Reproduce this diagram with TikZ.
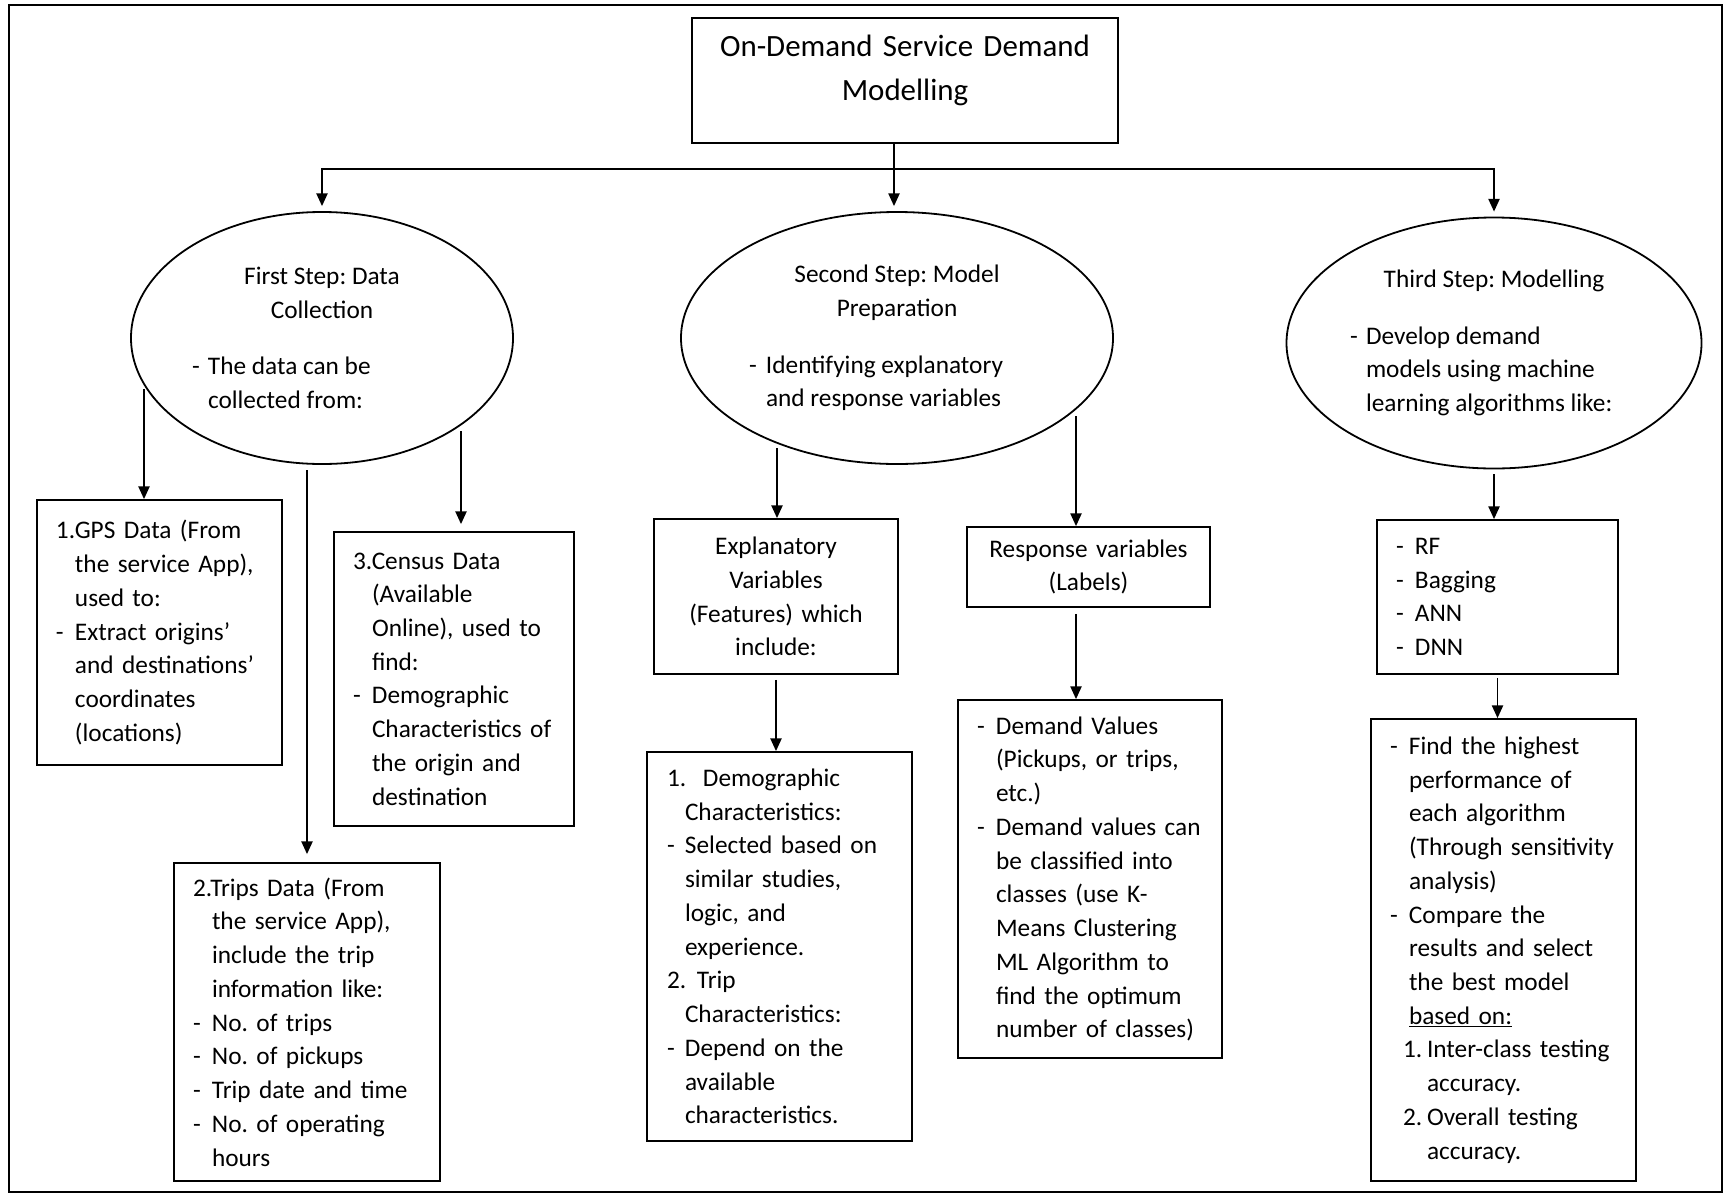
\documentclass[tikz,border=0pt]{standalone}
\usepackage{fontspec}
\setmainfont{Carlito}
\usetikzlibrary{arrows.meta,shapes.geometric}
\frenchspacing

% list helpers: dash column and hanging indent
\newcommand{\dsh}[1][4.75mm]{\makebox[#1][l]{-}}
\newcommand{\ind}[1][4.75mm]{\hspace*{#1}}

\tikzset{
    box/.style={draw, inner sep=0pt, align=left, font=\fontsize{18pt}{24pt}\selectfont},
    stepell/.style={draw, ellipse, inner sep=0pt, font=\fontsize{18pt}{24pt}\selectfont},
}

\begin{document}
\begin{tikzpicture}[x=0.25mm, y=-0.25mm, >={Triangle[length=3.2mm,width=2.8mm]}, line width=0.45mm]
    \useasboundingbox (0,0) rectangle (1726,1197);
    % Outer frame
    \draw[line width=0.55mm] (9,5) rectangle (1722,1192);

    % Title
    \node[box, align=center, minimum width=106.5mm, minimum height=31.25mm, text width=100mm,
          font=\fontsize{22pt}{31.3pt}\selectfont] (title) at (905,80.5)
        {On-Demand Service Demand\\Modelling\\[-4.5mm]\mbox{}};

    % The three steps
    \node[stepell, minimum width=95.5mm, minimum height=63mm] (ell1) at (322,338)
        {\parbox{65mm}{\centering First Step: Data\\Collection\par\vspace{5.75mm}
         \raggedright\dsh[4mm]The data can be\\\ind[4mm]collected from:}};
    \node[stepell, minimum width=108mm, minimum height=63mm] (ell2) at (897,338)
        {\parbox{74mm}{\centering Second Step: Model\\Preparation\par\vspace{5.75mm}
         \raggedright\dsh[4.25mm]Identifying explanatory\\\ind[4.25mm]and response variables}};
    \node[stepell, minimum width=103.75mm, minimum height=62.75mm] (ell3) at (1494,343)
        {\parbox{72mm}{\centering Third Step: Modelling\par\vspace{5.75mm}
         \raggedright\dsh[4mm]Develop demand\\\ind[4mm]models using machine\\\ind[4mm]learning algorithms like:}};

    % Data collection
    \node[box, minimum width=61.25mm, minimum height=66.25mm, text width=51.75mm] (gps) at (159.5,632.5)
        {1.GPS Data (From\\\ind the service App),\\\ind used to:\\\dsh Extract origins'\\\ind and destinations'\\\ind coordinates\\\ind (locations)};
    \node[box, minimum width=60mm, minimum height=73.5mm, text width=50.5mm] (census) at (454,679)
        {3.Census Data\\\ind (Available\\\ind Online), used to\\\ind find:\\\dsh Demographic\\\ind Characteristics of\\\ind the origin and\\\ind destination};
    \node[box, minimum width=66.5mm, minimum height=79.5mm, text width=57mm] (trips) at (307,1022)
        {2.Trips Data (From\\\ind the service App),\\\ind include the trip\\\ind information like:\\\dsh No. of trips\\\dsh No. of pickups\\\dsh Trip date and time\\\dsh No. of operating\\\ind hours};

    % Model preparation
    \node[box, align=center, minimum width=61mm, minimum height=38.75mm, text width=55mm] (expl) at (776,596.5)
        {Explanatory\\Variables\\(Features) which\\include:};
    \node[box, align=center, minimum width=60.75mm, minimum height=20mm, text width=55mm] (resp) at (1088.5,567)
        {Response variables\\(Labels)};
    \node[box, minimum width=66.25mm, minimum height=97.25mm, text width=56.25mm] (demo) at (779.5,946.5)
        {\makebox[9mm][l]{1.}Demographic\\\ind[4.5mm]Characteristics:\\\dsh[4.5mm]Selected based on\\\ind[4.5mm]similar studies,\\\ind[4.5mm]logic, and\\\ind[4.5mm]experience.\\\makebox[7.5mm][l]{2.}Trip\\\ind[4.5mm]Characteristics:\\\dsh[4.5mm]Depend on the\\\ind[4.5mm]available\\\ind[4.5mm]characteristics.};
    \node[box, minimum width=66mm, minimum height=89.5mm, text width=56.5mm] (demand) at (1090,879)
        {\dsh Demand Values\\\ind (Pickups, or trips,\\\ind etc.)\\\dsh Demand values can\\\ind be classified into\\\ind classes (use K-\\\ind Means Clustering\\\ind ML Algorithm to\\\ind find the optimum\\\ind number of classes)};

    % Modelling
    \node[box, minimum width=60.25mm, minimum height=38.5mm, text width=50.75mm] (algo) at (1497.5,597)
        {\dsh RF\\\dsh Bagging\\\dsh ANN\\\dsh DNN};
    \node[box, minimum width=66.25mm, minimum height=115.5mm, text width=56.75mm] (find) at (1503.5,950)
        {\dsh Find the highest\\\ind performance of\\\ind each algorithm\\\ind (Through sensitivity\\\ind analysis)\\\dsh Compare the\\\ind results and select\\\ind the best model\\\ind\underline{based on:}\\\hspace*{3.25mm}\makebox[6mm][l]{1.}Inter-class testing\\\hspace*{9.25mm}accuracy.\\\hspace*{3.25mm}\makebox[6mm][l]{2.}Overall testing\\\hspace*{9.25mm}accuracy.};

    % Title to the steps
    \coordinate (split) at (894,169);
    \draw[->, shorten >=1.25mm] (title.south -| split) -- (split |- ell2.north);
    \draw[<->, shorten <=1.25mm, shorten >=1.25mm] (ell1.north) -- (ell1.north |- split) -- (ell3.north |- split) -- (ell3.north);

    % Data sources
    \coordinate (gpsfrom) at (144,389);
    \coordinate (tripfrom) at (307,470);
    \coordinate (censfrom) at (461,431);
    \draw[->] (gpsfrom) -- (gpsfrom |- gps.north);
    \draw[->, shorten >=2mm] (tripfrom) -- (tripfrom |- trips.north);
    \draw[->, shorten >=1.75mm] (censfrom) -- (censfrom |- census.north);

    % Variables
    \coordinate (explfrom) at (777,448);
    \coordinate (respfrom) at (1076,416);
    \draw[->] (explfrom) -- (explfrom |- expl.north);
    \draw[->] (respfrom) -- (respfrom |- resp.north);
    \draw[->, shorten <=1.25mm] (expl.south) -- (expl.south |- demo.north);
    \draw[->, shorten <=1.5mm] (resp.south -| respfrom) -- (respfrom |- demand.north);

    % Models
    \draw[->, shorten <=1.25mm] (ell3.south) -- (ell3.south |- algo.north);
    \draw[->, shorten <=0.75mm] (algo.south) -- (algo.south |- find.north);
\end{tikzpicture}
\end{document}
